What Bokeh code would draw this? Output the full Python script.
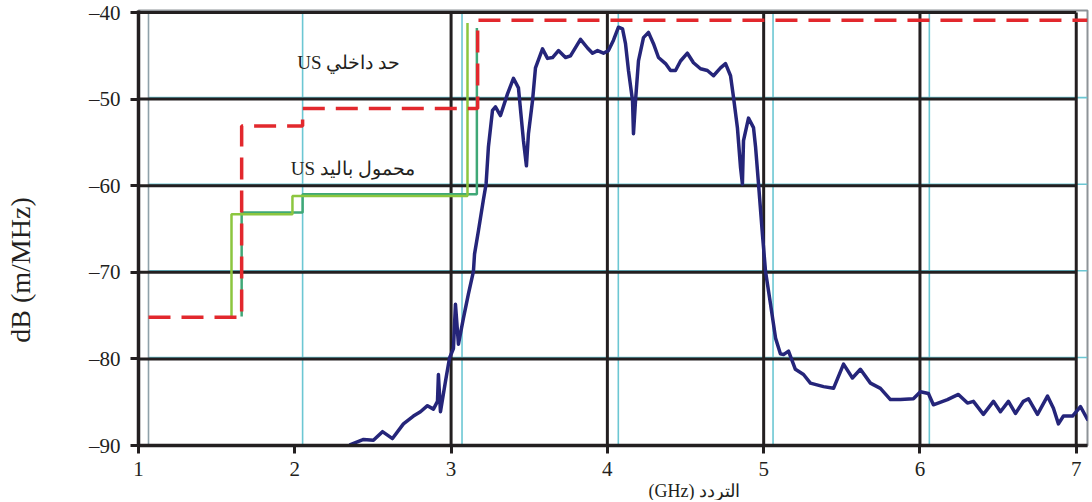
import math
from bokeh.plotting import figure
from bokeh.models import FixedTicker, Title
from bokeh.core.properties import value
from bokeh.embed import file_html
from bokeh.resources import INLINE

# ---- data ----
freq_ghz = [2.356, 2.440, 2.503, 2.561, 2.625, 2.695, 2.759, 2.804, 2.849, 2.887,
            2.913, 2.919, 2.932, 2.964, 2.990, 3.015, 3.028, 3.047, 3.079, 3.111,
            3.143, 3.150, 3.175, 3.207, 3.224, 3.239, 3.265, 3.284, 3.316, 3.361,
            3.399, 3.431, 3.463, 3.482, 3.495, 3.521, 3.540, 3.585, 3.617, 3.649,
            3.687, 3.732, 3.764, 3.828, 3.873, 3.905, 3.937, 3.975, 4.007, 4.039,
            4.071, 4.097, 4.116, 4.135, 4.161, 4.167, 4.180, 4.199, 4.231, 4.263,
            4.295, 4.327, 4.372, 4.404, 4.436, 4.468, 4.512, 4.551, 4.596, 4.640,
            4.679, 4.724, 4.756, 4.788, 4.807, 4.832, 4.852, 4.864, 4.871, 4.903,
            4.935, 4.948, 4.967, 4.992, 5.012, 5.044, 5.076, 5.107, 5.127, 5.159,
            5.203, 5.255, 5.299, 5.383, 5.447, 5.511, 5.568, 5.619, 5.683, 5.747,
            5.811, 5.875, 5.958, 6.003, 6.054, 6.086, 6.176, 6.246, 6.304, 6.342,
            6.406, 6.470, 6.515, 6.566, 6.611, 6.662, 6.694, 6.752, 6.816, 6.854,
            6.886, 6.918, 6.976, 7.027, 7.072]
level_db = [-89.9, -89.3, -89.4, -88.4, -89.2, -87.5, -86.6, -86.1, -85.4, -85.8,
            -84.9, -81.8, -86.1, -82.6, -79.9, -78.8, -73.7, -78.3, -75.3, -72.5,
            -69.9, -67.9, -65.2, -61.6, -59.8, -55.5, -51.3, -50.9, -51.9, -49.4,
            -47.6, -48.7, -54.8, -57.7, -54.0, -50.2, -46.4, -44.2, -45.3, -45.2,
            -44.4, -45.2, -45.0, -43.1, -44.1, -44.7, -44.4, -44.7, -44.4, -43.2,
            -41.7, -41.9, -43.6, -46.7, -50.2, -54.0, -50.2, -45.6, -42.9, -42.3,
            -43.6, -45.2, -45.9, -46.7, -46.7, -45.6, -44.7, -45.8, -46.5, -46.7,
            -47.3, -46.4, -45.9, -47.3, -49.8, -53.3, -57.9, -59.8, -54.8, -52.2,
            -53.3, -55.5, -59.8, -65.6, -69.9, -73.7, -77.6, -79.4, -79.5, -79.1,
            -81.2, -81.8, -82.8, -83.2, -83.4, -80.6, -82.2, -81.2, -82.8, -83.4,
            -84.7, -84.7, -84.6, -83.8, -84.0, -85.3, -84.7, -84.1, -85.1, -84.9,
            -86.4, -84.9, -86.1, -84.9, -86.3, -84.9, -84.6, -86.4, -84.3, -85.7,
            -87.5, -86.6, -86.6, -85.5, -87.0]

limit_x = [1.064, 1.66, 1.66, 2.05, 2.05, 3.17, 3.17, 7.072]
limit_y = [-75.2, -75.2, -53.1, -53.1, -51.1, -51.1, -40.9, -40.9]

carrier_x = [1.595, 1.595, 1.985, 1.985, 3.105, 3.105]
carrier_y = [-75.1, -63.3, -63.3, -61.2, -61.2, -41.2]
carrier2_x = [1.66, 1.66, 2.05, 2.05, 3.165, 3.165]
carrier2_y = [-75.1, -63.1, -63.1, -61.0, -61.0, -41.8]

x_ticks = [1, 2, 3, 4, 5, 6, 7]
y_ticks = [-90, -80, -70, -60, -50, -40]
black_grid_x = [3, 4, 5, 6, 7]
black_grid_y = [-80, -70, -60, -50, -40]
cyan_grid_x = [2.05, 3.07, 4.07, 5.06, 6.06]
cyan_grid_y = [-80, -70, -60, -50]

label_internal = "US حد داخلي"
label_carrier = "US محمول باليد"
x_title = "(GHz) التردد"
y_title = "dB (m/MHz)"

INK = "#231f20"
CYAN = "#6cc7d3"
SERIF = "Liberation Serif"

p = figure(width=1092, height=500, output_backend="svg", toolbar_location=None,
           x_range=(1.0, 7.072), y_range=(-90, -39.77),
           min_border_left=138, min_border_right=5, min_border_top=10,
           min_border_bottom=50)
p.xgrid.visible = False
p.ygrid.visible = False
p.outline_line_color = "#8e9398"
p.outline_line_width = 2
p.background_fill_color = "white"
p.border_fill_color = "white"

for ax in (p.xaxis[0], p.yaxis[0]):
    ax.axis_line_width = 3.5
    ax.axis_line_color = INK
    ax.major_tick_line_width = 3
    ax.major_tick_line_color = INK
    ax.major_tick_out = 8
    ax.major_tick_in = 0
    ax.minor_tick_line_color = None
    ax.major_label_text_font = SERIF
    ax.major_label_text_font_size = "21px"
    ax.major_label_text_color = INK

p.xaxis[0].ticker = FixedTicker(ticks=x_ticks)
p.xaxis[0].major_label_standoff = 8
p.yaxis[0].ticker = FixedTicker(ticks=y_ticks)
p.yaxis[0].major_label_standoff = 10
p.yaxis[0].major_label_overrides = {t: "\u2013" + str(abs(t)) for t in y_ticks}

# y title (trailing em spaces shift the centred label down to match the reference)
p.yaxis[0].axis_label = y_title + "\u2003\u2003\u2003"
p.yaxis[0].axis_label_text_font = SERIF
p.yaxis[0].axis_label_text_font_style = "normal"
p.yaxis[0].axis_label_text_font_size = "28px"
p.yaxis[0].axis_label_text_color = INK
p.yaxis[0].axis_label_standoff = 50

# x title
p.add_layout(Title(text=x_title, align="left", offset=510, standoff=0,
                   text_font=SERIF, text_font_style="normal",
                   text_font_size="18px", text_color=INK), "below")

# cyan (misregistered) grid
p.segment(x0=cyan_grid_x, y0=[-90] * len(cyan_grid_x), x1=cyan_grid_x,
          y1=[-39.77] * len(cyan_grid_x), line_color=CYAN, line_width=1.6)
p.segment(x0=[1.064] * len(cyan_grid_y), y0=[v + 0.17 for v in cyan_grid_y],
          x1=[7.072] * len(cyan_grid_y), y1=[v + 0.17 for v in cyan_grid_y],
          line_color=CYAN, line_width=1.6)
p.segment(x0=[1.064], y0=[-90], x1=[1.064], y1=[-39.77], line_color="#8fa1aa",
          line_width=1.6)

# black grid
p.segment(x0=black_grid_x, y0=[-90] * len(black_grid_x), x1=black_grid_x,
          y1=[-40] * len(black_grid_x), line_color=INK, line_width=3)
p.segment(x0=[1.0] * len(black_grid_y), y0=black_grid_y,
          x1=[7.0] * len(black_grid_y), y1=black_grid_y, line_color=INK, line_width=3)

# carrier (green) lines
p.line(carrier2_x, carrier2_y, line_color="#3fa877", line_width=2.5)
p.line(carrier_x, carrier_y, line_color="#8cc63f", line_width=2.5)

# internal limit (red dashed)
p.line(limit_x, limit_y, line_color="#e2282d", line_width=3.5, line_dash="22 11")

# measured spectrum
p.line(freq_ghz, level_db, line_color="#25257a", line_width=3.5,
       line_join="round", line_cap="round")

# annotations
p.text(x=[2.344], y=[-45.8], text=[label_internal], text_font=value(SERIF),
       text_font_size="19px", text_align="center", text_baseline="middle",
       text_color=INK)
p.text(x=[2.37], y=[-58.05], text=[label_carrier], text_font=value(SERIF),
       text_font_size="19px", text_align="center", text_baseline="middle",
       text_color=INK)

open("out.html", "w").write(file_html(p, INLINE))
